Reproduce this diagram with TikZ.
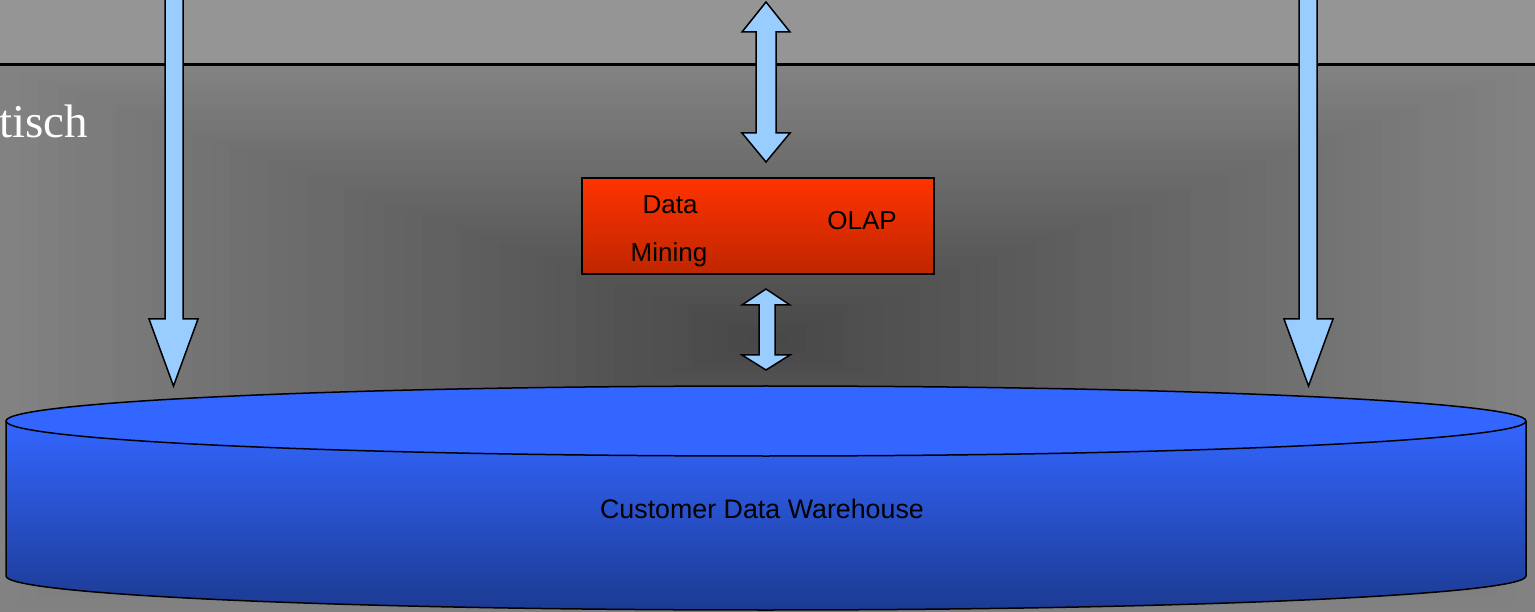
\documentclass[tikz,border=0pt]{standalone}
\usepackage{fontspec}
\setmainfont{Liberation Sans}
\newfontfamily\tmsfont{Liberation Serif}
\definecolor{bandgray}{HTML}{959595}
\definecolor{gOut}{HTML}{828282}
\definecolor{gIn}{HTML}{484848}
\definecolor{arrowblue}{HTML}{99CCFF}
\definecolor{cylTop}{HTML}{3366FF}
\definecolor{cylBot}{HTML}{1C3A92}
\definecolor{redTop}{HTML}{FF3300}
\definecolor{redBot}{HTML}{BF2600}
\tikzset{
  blockarrow/.style={fill=arrowblue, draw=black, line width=1.5pt, line join=miter},
  lbl/.style={inner sep=0pt, anchor=base, font=\fontsize{26}{30}\selectfont, text=black},
  outline/.style={draw=black, line width=1.5pt}
}
\begin{document}
\begin{tikzpicture}[x=1pt,y=-1pt]
\useasboundingbox (0,0) rectangle (1535,612);
% background
\fill[bandgray] (0,0) rectangle (1535,65);
\foreach \i [evaluate=\i as \p using \i*100/39, evaluate=\i as \f using 1-\i/40] in {0,...,39}{
  \fill[gIn!\p!gOut] ({767.5-767.5*\f},{338.5-273.5*\f}) rectangle ({767.5+767.5*\f},{338.5+273.5*\f});
}
\draw[black, line width=3pt] (0,65) -- (1535,65);
% left text
\node[inner sep=0pt, anchor=base east, text=white, font=\tmsfont\fontsize{47}{54}\selectfont] (tisch) at (88,138) {tisch};
% cylinder
\shade[top color=cylTop, bottom color=cylBot] (6,421) -- (6,576) arc[start angle=180, end angle=360, x radius=760pt, y radius=34pt] -- (1526,421) -- cycle;
\draw[outline] (6,421) -- (6,576) arc[start angle=180, end angle=360, x radius=760pt, y radius=34pt] -- (1526,421);
\filldraw[fill=cylTop, outline] (766,421) ellipse [x radius=760pt, y radius=35pt];
\node[lbl, font=\fontsize{26.8}{30}\selectfont] (cdw) at (762,518) {Customer Data Warehouse};
% red box
\node[outline, top color=redTop, bottom color=redBot, minimum width=352pt, minimum height=96pt, inner sep=0pt] (box) at (758,226) {};
\node[lbl] (data) at (670,214) {Data};
\node[lbl] (mining) at (669,262) {Mining};
\node[lbl] (olap) at (862,230) {OLAP};
% left down arrow
\draw[blockarrow] (165,-5) -- (165,319) -- (149,319) -- (173.5,386) -- (198,319) -- (183,319) -- (183,-5) -- cycle;
% right down arrow
\draw[blockarrow] (1299,-5) -- (1299,319) -- (1284,319) -- (1308.5,386) -- (1333,319) -- (1317,319) -- (1317,-5) -- cycle;
% top double arrow
\draw[blockarrow] (766,2) -- (790,32) -- (776,32) -- (776,133) -- (790,133) -- (766,162) -- (742,133) -- (756,133) -- (756,32) -- (742,32) -- cycle;
% lower double arrow
\draw[blockarrow] (766,289) -- (790,305) -- (775,305) -- (775,355) -- (790,355) -- (766,370) -- (742,355) -- (759,355) -- (759,305) -- (742,305) -- cycle;
\end{tikzpicture}
\end{document}
